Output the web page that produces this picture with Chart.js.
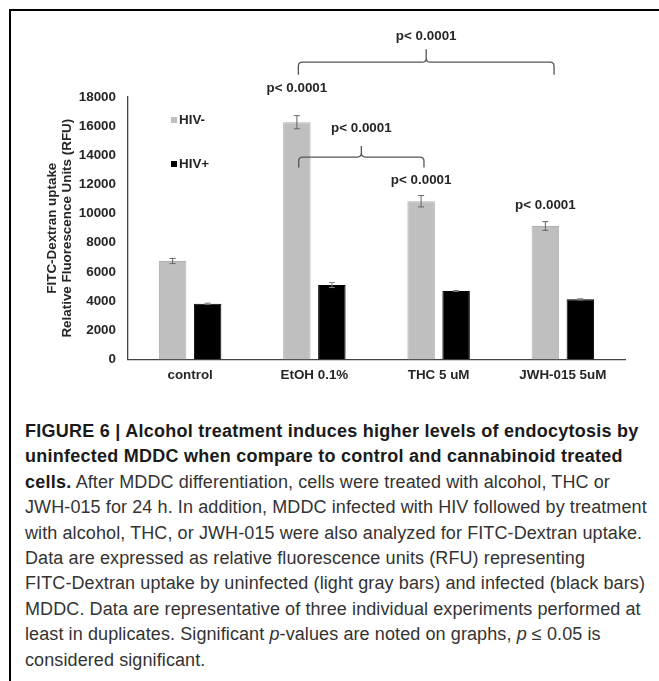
<!DOCTYPE html>
<html>
<head>
<meta charset="utf-8">
<script src="https://cdn.jsdelivr.net/npm/chart.js@4/dist/chart.umd.min.js"></script>
<style>
  html, body { margin: 0; padding: 0; background: #fff; }
  body { width: 659px; height: 681px; position: relative; overflow: hidden; }
  .frame { position: absolute; left: 9px; top: 9px; width: 660px; height: 680px;
           border-left: 2px solid #000; border-top: 2px solid #000; }
  .plot { position: absolute; left: 0; top: 0; width: 659px; height: 400px; }
  .caption { position: absolute; left: 25px; top: 419px; width: 634px;
             font-family: "Liberation Sans", Arial, sans-serif; font-size: 18px;
             letter-spacing: 0.1px; line-height: 25.4px; color: #333; white-space: nowrap; }
  .caption b { color: #1a1a1a; letter-spacing: 0.25px; }
</style>
</head>
<body>
<div class="frame"></div>
<div class="plot"><canvas id="fig6"></canvas></div>
<div class="caption">
  <b>FIGURE 6 | Alcohol treatment induces higher levels of endocytosis by</b><br>
  <b>uninfected MDDC when compare to control and cannabinoid treated</b><br>
  <b>cells.</b> After MDDC differentiation, cells were treated with alcohol, THC or<br>
  JWH-015 for 24 h. In addition, MDDC infected with HIV followed by treatment<br>
  with alcohol, THC, or JWH-015 were also analyzed for FITC-Dextran uptake.<br>
  Data are expressed as relative fluorescence units (RFU) representing<br>
  FITC-Dextran uptake by uninfected (light gray bars) and infected (black bars)<br>
  MDDC. Data are representative of three individual experiments performed at<br>
  least in duplicates. Significant <i>p</i>-values are noted on graphs, <i>p</i> &le; 0.05 is<br>
  considered significant.
</div>
<script>
// FITC-Dextran uptake (RFU)
const categories = ["control", "EtOH 0.1%", "THC 5 uM", "JWH-015 5uM"];
const hivNeg = [6750, 16270, 10850, 9150];
const hivNegErr = [180, 450, 390, 300];
const hivPos = [3820, 5100, 4700, 4120];
const hivPosErr = [40, 170, 30, 40];
const yMax = 18000;
const yStep = 2000;
const pText = "p< 0.0001";

const FONT = '"Liberation Sans", Arial, sans-serif';
const INK = "#262626";

// significance marks: single-bar labels and braces between HIV- bars
const barMarks = [
  { index: 1, lift: 27 },
  { index: 2, lift: 15 },
  { index: 3, lift: 16 }
];
const braces = [
  { from: 0.874, to: 1.882, value: 13880, drop: 10.5, rise: 11, label: 29 },
  { from: 0.871, to: 2.929, value: 20390, drop: 12.5, rise: 13, label: 26 }
];

const extras = {
  id: "extras",
  afterDatasetsDraw(chart) {
    const { ctx, chartArea, scales: { x, y } } = chart;
    ctx.save();

    // error bars
    [hivNegErr, hivPosErr].forEach((errs, ds) => {
      const vals = chart.data.datasets[ds].data;
      chart.getDatasetMeta(ds).data.forEach((bar, i) => {
        const hi = y.getPixelForValue(vals[i] + errs[i]);
        const lo = y.getPixelForValue(vals[i] - errs[i]);
        ctx.strokeStyle = ds === 0 ? "#666" : "#808080";
        ctx.lineWidth = 1;
        ctx.beginPath();
        ctx.moveTo(bar.x, hi); ctx.lineTo(bar.x, lo);
        ctx.moveTo(bar.x - 3, hi); ctx.lineTo(bar.x + 3, hi);
        ctx.moveTo(bar.x - 3, lo); ctx.lineTo(bar.x + 3, lo);
        ctx.stroke();
      });
    });

    // legend inside the plot
    ctx.font = "bold 13.4px " + FONT;
    ctx.textBaseline = "middle";
    ctx.textAlign = "left";
    chart.data.datasets.forEach((d, i) => {
      const lx = chartArea.left + 43;
      const ly = chartArea.top + 23 + i * 44;
      ctx.fillStyle = d.backgroundColor;
      ctx.fillRect(lx, ly - 3, 6, 6);
      ctx.fillStyle = INK;
      ctx.fillText(d.label, lx + 8, ly);
    });

    ctx.textAlign = "center";

    // p-values above single bars
    const meta0 = chart.getDatasetMeta(0);
    barMarks.forEach(m => {
      const bar = meta0.data[m.index];
      const top = y.getPixelForValue(hivNeg[m.index] + hivNegErr[m.index]);
      ctx.fillStyle = INK;
      ctx.fillText(pText, bar.x, top - m.lift);
    });

    // braces
    ctx.strokeStyle = "#555";
    ctx.lineWidth = 1.3;
    braces.forEach(b => {
      const xl = x.getPixelForValue(b.from);
      const xr = x.getPixelForValue(b.to);
      const xm = (xl + xr) / 2;
      const yy = y.getPixelForValue(b.value);
      const r = 4;
      ctx.beginPath();
      ctx.moveTo(xl, yy + b.drop);
      ctx.lineTo(xl, yy + r);
      ctx.quadraticCurveTo(xl, yy, xl + r, yy);
      ctx.lineTo(xm - r, yy);
      ctx.quadraticCurveTo(xm, yy, xm, yy - r);
      ctx.lineTo(xm, yy - b.rise);
      ctx.moveTo(xm, yy - r);
      ctx.quadraticCurveTo(xm, yy, xm + r, yy);
      ctx.lineTo(xr - r, yy);
      ctx.quadraticCurveTo(xr, yy, xr, yy + r);
      ctx.lineTo(xr, yy + b.drop);
      ctx.stroke();
      ctx.fillStyle = INK;
      ctx.fillText(pText, xm, yy - b.label);
    });

    ctx.restore();
  }
};

new Chart(document.getElementById("fig6"), {
  type: "bar",
  data: {
    labels: categories,
    datasets: [
      {
        label: "HIV-",
        data: hivNeg,
        backgroundColor: "#bfbfbf",
        borderColor: "#b0b0b0",
        borderWidth: 1,
        categoryPercentage: 0.563,
        barPercentage: 0.786
      },
      {
        label: "HIV+",
        data: hivPos,
        backgroundColor: "#000000",
        borderColor: "#000000",
        borderWidth: 1,
        categoryPercentage: 0.563,
        barPercentage: 0.786
      }
    ]
  },
  options: {
    responsive: true,
    maintainAspectRatio: false,
    animation: false,
    devicePixelRatio: 1,
    layout: { padding: { top: 97, right: 34, left: 0, bottom: 0 } },
    plugins: {
      legend: { display: false },
      tooltip: { enabled: false }
    },
    scales: {
      x: {
        grid: { display: false, drawTicks: false },
        border: { display: true, color: "#444", width: 1.3 },
        ticks: { color: INK, padding: 8, font: { family: FONT, size: 13.4, weight: "bold" } },
        afterFit(s) { s.height = 40.6; }
      },
      y: {
        min: 0,
        max: yMax,
        grid: { display: false, drawTicks: false },
        border: { display: true, color: "#444", width: 1.3 },
        ticks: {
          stepSize: yStep,
          color: INK,
          padding: 12,
          font: { family: FONT, size: 13.4, weight: "bold" },
          callback: v => String(v)
        },
        title: {
          display: true,
          text: ["FITC-Dextran uptake", "Relative Fluorescence Units (RFU)"],
          color: INK,
          padding: { top: 45, bottom: 0 },
          font: { family: FONT, size: 13.4, weight: "bold", lineHeight: 1.1 }
        },
        afterFit(s) { s.width = 128; }
      }
    }
  },
  plugins: [extras]
});
</script>
</body>
</html>
